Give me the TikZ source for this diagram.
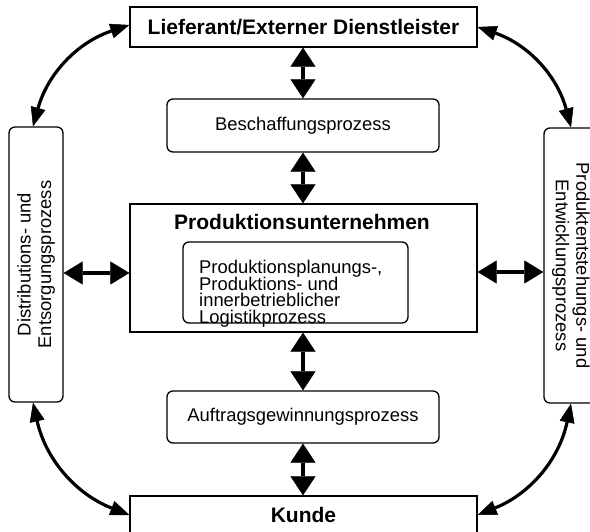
\documentclass[tikz,border=0pt]{standalone}
\usepackage{fontspec}
\setmainfont{Liberation Sans}
\usetikzlibrary{arrows.meta}
\lineskiplimit=-30pt
\begin{document}
\begin{tikzpicture}[x=1pt,y=1pt,
  box/.style={draw, line width=1.3pt, inner sep=0pt},
  sqbox/.style={box, minimum width=347pt},
  rbox/.style={box, rounded corners=6pt},
  normaltext/.style={font=\fontsize{18.4}{16.7}\selectfont},
  sidetext/.style={font=\fontsize{18.4}{20.5}\selectfont},
  boldtext/.style={font=\fontsize{21}{24}\selectfont\bfseries},
  vtip/.tip={Triangle[length=19pt,width=25pt,line width=0.5pt]},
  htip/.tip={Triangle[length=19pt,width=23pt,line width=0.5pt]},
  ctip/.tip={Triangle[length=19pt,width=15pt,line width=0.5pt]},
  varrow/.style={line width=4pt, vtip-vtip},
  harrow/.style={line width=3.5pt, htip-htip},
  carrow/.style={line width=3.2pt, ctip-ctip, bend angle=28}
]
\useasboundingbox (0,0) rectangle (590,532);

% boxes
\node[sqbox, minimum height=40pt, boldtext] (T) at (303.5,505) {Lieferant/Externer Dienstleister};
\node[rbox, minimum width=272pt, minimum height=53pt, normaltext] (B) at (303,406.5) {Beschaffungsprozess};
\node[sqbox, minimum height=128pt] (P) at (303.5,264) {};
\node[boldtext] (Pt) at (302,310) {Produktionsunternehmen};
\node[rbox, minimum width=225pt, minimum height=81pt] (I) at (295.5,249.5) {};
\node[normaltext, align=left, anchor=north west, inner sep=0pt] (It) at (199,272)
  {Produktionsplanungs-,\\Produktions- und\\innerbetrieblicher\\Logistikprozess};
\node[rbox, minimum width=272pt, minimum height=52pt, normaltext] (A) at (303,115) {Auftragsgewinnungsprozess};
\node[sqbox, minimum height=38pt, boldtext] (K) at (303.5,17) {Kunde};
\node[rbox, minimum width=54pt, minimum height=275pt] (L) at (36,267.5) {};
\node[sidetext, rotate=90, align=center] (Lt) at (L.center) {Distributions- und\\Entsorgungsprozess};
\node[rbox, minimum width=54pt, minimum height=275pt] (R) at (571,266.5) {};
\node[sidetext, rotate=-90, align=center] (Rt) at (R.center) {Produktentstehungs- und\\Entwicklungsprozess};

% straight arrows
\draw[varrow] (B.north |- T.south) -- (B.north);
\draw[varrow] (B.south) -- (B.south |- P.north);
\draw[varrow] (A.north |- P.south) -- (A.north);
\draw[varrow] (A.south) -- (A.south |- K.north);
\coordinate (hl) at ([yshift=-5pt]P.west);
\coordinate (hr) at ([yshift=-4pt]P.east);
\draw[harrow] (hl -| L.east) -- (hl);
\draw[harrow] (hr) -- (hr -| R.west);

% curved arrows
\draw[carrow] ([xshift=-3pt]L.north) to[bend left] ([yshift=2pt]T.west);
\draw[carrow] (T.east) to[bend left] (R.north);
\draw[carrow] ([xshift=-3pt]L.south) to[bend right] (K.west);
\draw[carrow] (R.south) to[bend left] (K.east);
\end{tikzpicture}
\end{document}
